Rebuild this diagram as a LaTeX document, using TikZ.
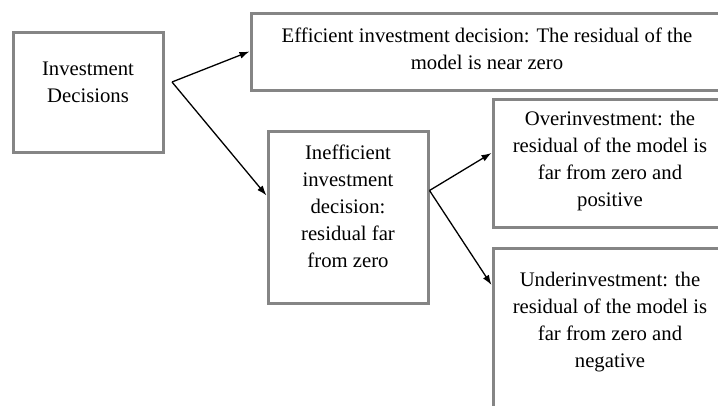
\documentclass[tikz,border=0pt]{standalone}
\usepackage{fontspec}
\setmainfont{Liberation Serif}
\usetikzlibrary{arrows.meta}

\begin{document}
\begin{tikzpicture}[x=1pt, y=-1pt,
		box/.style={draw=black!48, line width=3pt, align=center, inner sep=0pt,
			font=\fontsize{20.7}{27}\selectfont},
		link/.style={-{Latex[length=10pt, width=7pt]}, line width=1.3pt}]
		\useasboundingbox (0,0) rectangle (718,405);
		\clip (0,0) rectangle (718,405);

		\node[box, minimum width=150pt, minimum height=120pt, text depth=19pt] (inv) at (88,92) {Investment\\Decisions};
		\node[box, minimum width=472pt, minimum height=77pt, text depth=6pt] (eff) at (487,51.5) {Efficient investment decision: The residual of the\\model is near zero};
		\node[box, minimum width=160pt, minimum height=172pt, text depth=22pt] (ineff) at (348,217.5) {Inefficient\\investment\\decision:\\residual far\\from zero};
		\node[box, minimum width=234pt, minimum height=128pt, text depth=8pt] (over) at (610,163) {Overinvestment: the\\residual of the model is\\far from zero and\\positive};
		\node[box, minimum width=234pt, minimum height=172pt, text depth=28pt] (under) at (610,334) {Underinvestment: the\\residual of the model is\\far from zero and\\negative};

		\coordinate (split) at (172,82);
		\coordinate (fork) at ([yshift=27pt]ineff.east);

		\draw[link] (split) -- (eff.west);
		\draw[link] (split) -- ([yshift=22pt]ineff.west);
		\draw[link] (fork) -- ([yshift=10pt]over.west);
		\draw[link] (fork) -- ([yshift=49pt]under.west);
	\end{tikzpicture}
\end{document}
